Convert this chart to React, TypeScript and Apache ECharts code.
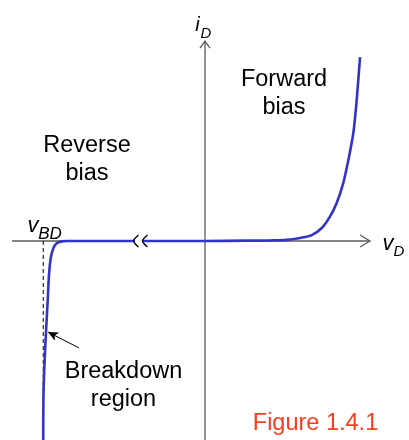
import React, { useEffect, useRef } from "react";
import * as echarts from "echarts";

// Diode i-v characteristic (arbitrary normalised units)
const reverseCurve: number[][] = [
  [-1.011, -1.105],
  [-1.01, -0.883],
  [-1.004, -0.698],
  [-0.994, -0.511],
  [-0.983, -0.328],
  [-0.975, -0.189],
  [-0.964, -0.094],
  [-0.948, -0.041],
  [-0.927, -0.013],
  [-0.895, -0.002],
  [-0.864, 0.0],
  [-0.5, 0.0],
];
const forwardCurve: number[][] = [
  [0.0, 0.0],
  [0.26, 0.002],
  [0.406, 0.003],
  [0.51, 0.006],
  [0.594, 0.017],
  [0.667, 0.033],
  [0.73, 0.072],
  [0.781, 0.135],
  [0.823, 0.211],
  [0.864, 0.322],
  [0.896, 0.45],
  [0.927, 0.6],
  [0.948, 0.783],
  [0.969, 1.022],
];
const diodeCurve = [...reverseCurve, ...forwardCurve];

// Axis extents
const vAxisLine: number[][] = [
  [-1.206, 0],
  [1.031, 0],
];
const iAxisLine: number[][] = [
  [0, -1.106],
  [0, 1.111],
];
// Breakdown voltage marker
const vBD = -1.011;
const breakdownDash: number[][] = [
  [vBD, 0],
  [vBD, -0.894],
];
// Pointer to the breakdown region: [from, to]
const breakdownPointer: number[][] = [
  [-0.7875, -0.594],
  [-0.981, -0.506],
];
// Axis-break marks on the v axis
const breakMarks: number[] = [-0.447, -0.391];

const X_MIN = -1.28125;
const X_MAX = 1.275;
const Y_MIN = -1.10556;
const Y_MAX = 1.33889;

const FONT = "'Liberation Sans', Arial, sans-serif";
const AXIS_COLOR = "#5a5a5a";

export default function App() {
  const ref = useRef<HTMLDivElement>(null);

  useEffect(() => {
    if (!ref.current) return;
    const chart = echarts.init(ref.current, undefined, { renderer: "svg" });

    chart.setOption({
      animation: false,
      grid: { left: 0, right: 0, top: 0, bottom: 0 },
      xAxis: { type: "value", min: X_MIN, max: X_MAX, show: false },
      yAxis: { type: "value", min: Y_MIN, max: Y_MAX, show: false },
      series: [
        {
          type: "line",
          data: vAxisLine,
          symbol: "none",
          lineStyle: { color: AXIS_COLOR, width: 1.3 },
          silent: true,
        },
        {
          type: "line",
          data: iAxisLine,
          symbol: "none",
          lineStyle: { color: AXIS_COLOR, width: 1.3 },
          silent: true,
        },
        {
          type: "line",
          data: breakdownDash,
          symbol: "none",
          lineStyle: { color: "#000", width: 1, type: [4, 3] },
          silent: true,
        },
        {
          type: "line",
          data: diodeCurve,
          symbol: "none",
          smooth: 0.3,
          lineStyle: { color: "#3333cc", width: 2.6 },
          silent: true,
          markLine: {
            silent: true,
            symbol: ["none", "arrow"],
            symbolSize: [7, 10],
            label: { show: false },
            lineStyle: { color: "#000", width: 1, type: "solid" },
            data: [
              [
                { coord: breakdownPointer[0] },
                { coord: breakdownPointer[1] },
              ],
            ],
          },
        },
      ],
    });

    const px = (p: number[]) =>
      chart.convertToPixel({ gridIndex: 0 }, p) as number[];

    const vTip = px(vAxisLine[1]);
    const iTip = px(iAxisLine[1]);

    const chevron = (tip: number[]) => ({
      type: "polyline",
      shape: {
        points: [
          [tip[0] + 5, tip[1] - 6],
          [tip[0] + 1, tip[1] - 2],
          [tip[0], tip[1]],
          [tip[0] + 1, tip[1] + 2],
          [tip[0] + 5, tip[1] + 6],
        ],
        smooth: 0.4,
      },
      style: { stroke: "#000", lineWidth: 1.3, fill: "none" },
      z: 10,
    });
    const breakTips = breakMarks.map((v) => px([v, 0]));

    const text = (
      t: string,
      x: number,
      y: number,
      size: number,
      extra: any = {}
    ) => ({
      type: "text",
      x,
      y,
      z: 20,
      style: {
        text: t,
        fontFamily: FONT,
        fontSize: size,
        fill: "#000",
        align: "center",
        verticalAlign: "top",
        lineHeight: 28,
        ...extra,
      },
    });

    chart.setOption({
      graphic: [
        // v axis arrow head
        {
          type: "polyline",
          shape: {
            points: [
              [vTip[0] - 10, vTip[1] - 6],
              [vTip[0], vTip[1]],
              [vTip[0] - 10, vTip[1] + 6],
            ],
          },
          style: { stroke: AXIS_COLOR, lineWidth: 1.3, fill: "none" },
        },
        // i axis arrow head
        {
          type: "polyline",
          shape: {
            points: [
              [iTip[0] - 5, iTip[1] + 7],
              [iTip[0], iTip[1]],
              [iTip[0] + 5, iTip[1] + 7],
            ],
          },
          style: { stroke: AXIS_COLOR, lineWidth: 1.3, fill: "none" },
        },
        // gap in the v axis behind the break marks
        {
          type: "rect",
          shape: {
            x: breakTips[0][0] + 1.5,
            y: breakTips[0][1] - 2.5,
            width: breakTips[1][0] - breakTips[0][0] - 1,
            height: 5,
          },
          style: { fill: "#fff" },
          z: 9,
        },
        ...breakTips.map(chevron),
        text("Reverse\nbias", 87, 129.5, 23.5),
        text("Forward\nbias", 284, 63.5, 23.5),
        text("Breakdown\nregion", 123.5, 356, 23.5),
        text("Figure 1.4.1", 315.5, 408, 23.5, { fill: "#ff3b1d" }),
        // axis labels
        text("i", 197.5, 10, 20, { fontStyle: "italic" }),
        text("D", 206, 18, 15, { fontStyle: "italic" }),
        text("v", 388, 228, 22, { fontStyle: "italic" }),
        text("D", 399, 236, 15, { fontStyle: "italic" }),
        text("v", 33, 210, 22, { fontStyle: "italic" }),
        text("BD", 50, 219, 17, { fontStyle: "italic" }),
      ],
    });

    return () => chart.dispose();
  }, []);

  return (
    <div
      ref={ref}
      style={{ position: "fixed", left: 0, top: 0, width: 409, height: 440 }}
    />
  );
}
